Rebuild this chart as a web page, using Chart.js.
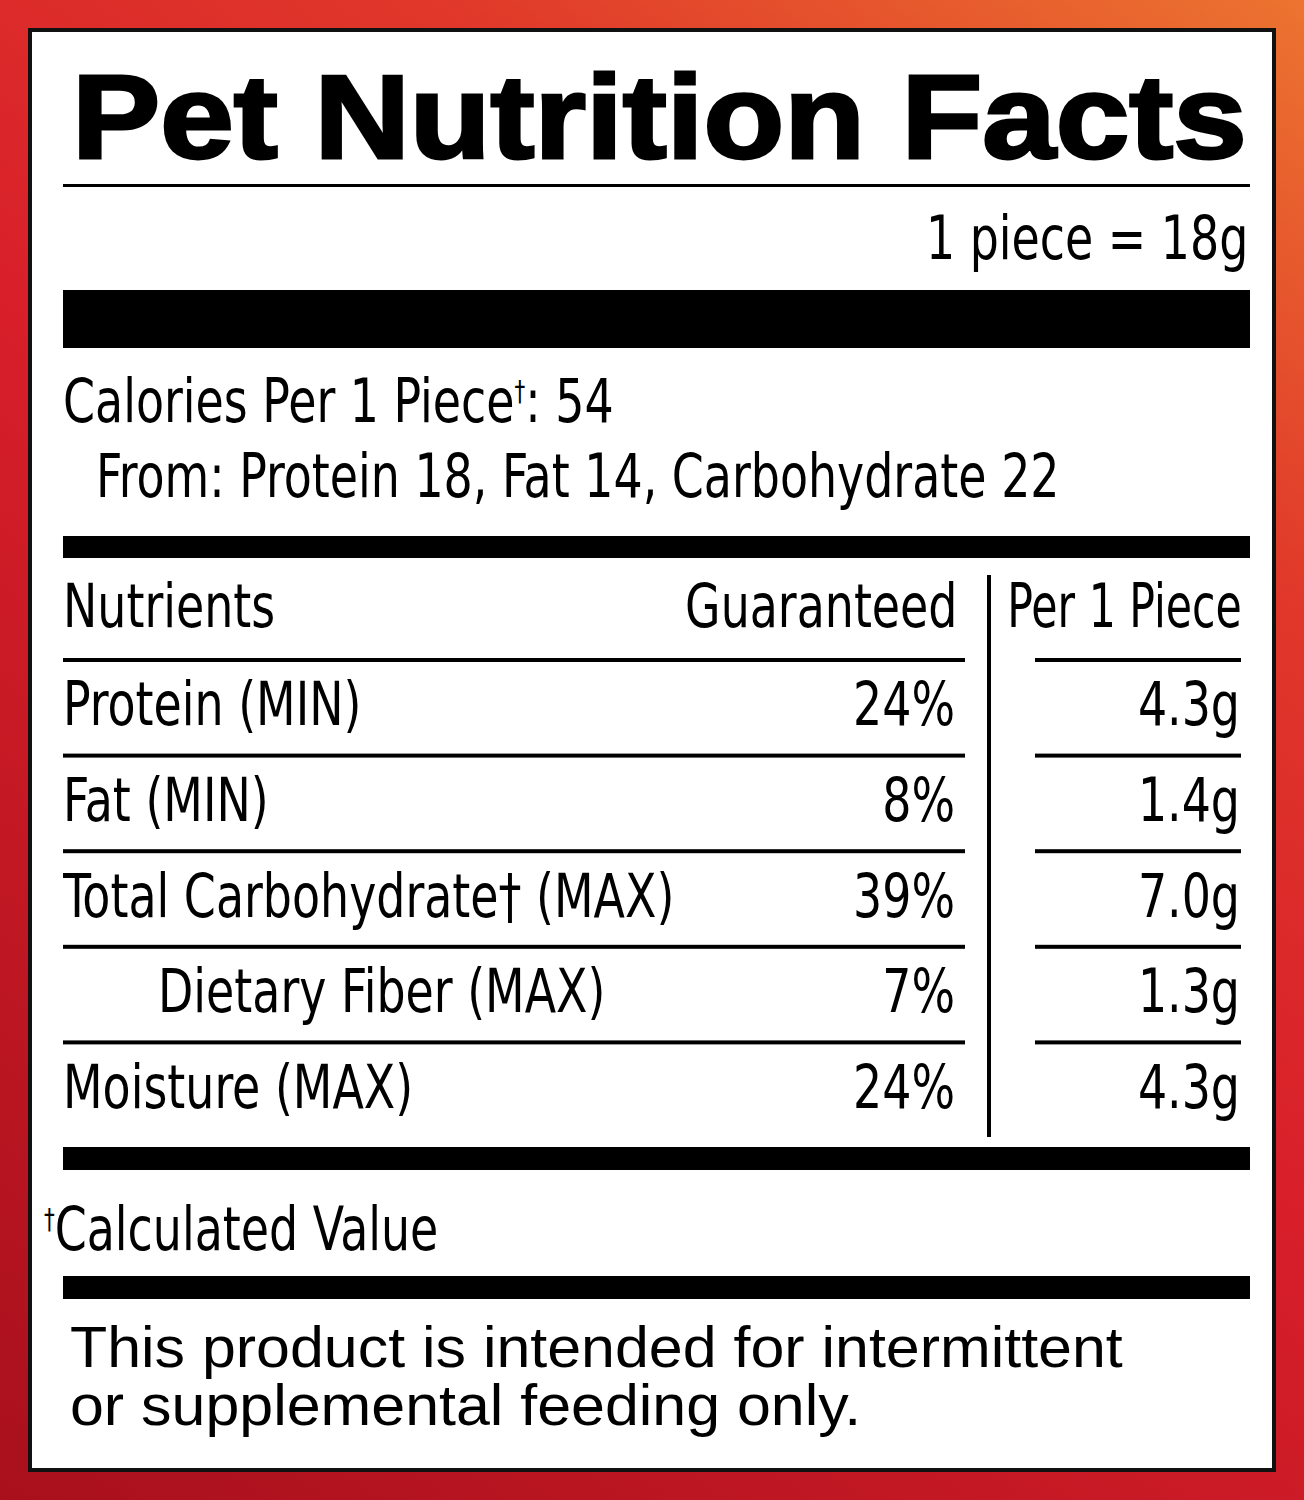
<!DOCTYPE html>
<html lang="en">
<head>
  <meta charset="UTF-8">
  <title>Pet Nutrition Facts</title>
  <script src="https://cdn.jsdelivr.net/npm/chart.js"></script>
  <style>
    body { margin: 0; width: 1304px; height: 1500px; overflow: hidden;
      background: linear-gradient(35deg, #a8101c 0%, #d81f2a 50%, #e0382a 75%, #ec7430 100%); }
    .card { position: absolute; left: 28px; top: 28px; width: 1240px; height: 1436px;
      background: #fff; border: 4px solid #111; }
    .t { position: absolute; white-space: nowrap; color: #000; line-height: 1;
      font-family: 'DejaVu Sans Condensed', sans-serif; font-size: 60px;
      transform: scaleX(0.85); transform-origin: left center; }
    .r { transform-origin: right center; }
    .bar { position: absolute; background: #000; }
  </style>
</head>
<body>
  <div class="card"></div>
  <div class="t" style="left:72px;top:58px;font-family:'Liberation Sans',Arial,sans-serif;font-weight:900;font-size:118px;-webkit-text-stroke:3px #000;transform:scaleX(1.12)">Pet Nutrition Facts</div>
  <div class="bar" style="left:63px;top:184px;width:1187px;height:3px"></div>
  <div class="t r" style="right:56px;top:208px">1 piece = 18g</div>
  <div class="bar" style="left:63px;top:290px;width:1187px;height:58px"></div>
  <div class="t" style="left:63px;top:371px">Calories Per 1 Piece<sup style="font-size:28px">†</sup>: 54</div>
  <div class="t" style="left:96px;top:446px">From: Protein 18, Fat 14, Carbohydrate 22</div>
  <div class="bar" style="left:63px;top:536px;width:1187px;height:22px"></div>
  <div class="t" style="left:63px;top:576px">Nutrients</div>
  <div class="t r" style="right:347px;top:576px">Guaranteed</div>
  <div class="t r" style="right:62px;top:576px;transform:scaleX(0.79)">Per 1 Piece</div>
  <div class="bar" style="left:987px;top:575px;width:4px;height:562px"></div>
  <div style="position:absolute;left:63px;top:658px;width:1187px;height:478px">
    <canvas id="tbl"></canvas>
  </div>
  <div class="bar" style="left:63px;top:1147px;width:1187px;height:23px"></div>
  <div class="t" style="left:44px;top:1199px"><sup style="font-size:28px">†</sup>Calculated Value</div>
  <div class="bar" style="left:63px;top:1276px;width:1187px;height:23px"></div>
  <div class="t" style="left:70px;top:1318px;font-family:'Liberation Sans',Arial,sans-serif;font-size:58px;line-height:58px;transform:scaleX(1.05)">This product is intended for intermittent<br>or supplemental feeding only.</div>

  <script>
    const nutrients = ['Protein (MIN)', 'Fat (MIN)', 'Total Carbohydrate† (MAX)', 'Dietary Fiber (MAX)', 'Moisture (MAX)'];
    const indents = [0, 0, 0, 1, 0];
    const guaranteed = ['24%', '8%', '39%', '7%', '24%'];
    const perPiece = ['4.3g', '1.4g', '7.0g', '1.3g', '4.3g'];
    const FONT = "60px 'DejaVu Sans Condensed', sans-serif";
    const SQUEEZE = 0.85;

    function squeezedText(ctx, text, x, y, align) {
      ctx.save();
      ctx.translate(x, y);
      ctx.scale(SQUEEZE, 1);
      ctx.textAlign = align;
      ctx.fillText(text, 0, 0);
      ctx.restore();
    }

    const tablePlugin = {
      id: 'tablePlugin',
      afterDraw(chart) {
        const ctx = chart.ctx;
        const y = chart.scales.y;
        const w = chart.width;
        const rowH = y.getPixelForValue(1) - y.getPixelForValue(0);
        ctx.save();
        ctx.fillStyle = '#000';
        ctx.font = FONT;
        ctx.textBaseline = 'middle';
        nutrients.forEach((n, i) => {
          const cy = y.getPixelForValue(i);
          const top = cy - rowH / 2;
          ctx.fillRect(0, top, 902, 4);
          ctx.fillRect(972, top, 206, 4);
          squeezedText(ctx, n, indents[i] ? 95 : 0, cy + 4, 'left');
          squeezedText(ctx, guaranteed[i], 892, cy + 4, 'right');
          squeezedText(ctx, perPiece[i], w - 10, cy + 4, 'right');
        });
        ctx.restore();
      }
    };

    new Chart(document.getElementById('tbl'), {
      type: 'bar',
      data: { labels: nutrients, datasets: [{ data: nutrients.map(() => 0), backgroundColor: 'transparent' }] },
      options: {
        indexAxis: 'y', responsive: true, maintainAspectRatio: false, animation: false,
        layout: { padding: 0 },
        plugins: { legend: { display: false }, tooltip: { enabled: false } },
        scales: {
          y: { type: 'category', offset: true, display: false },
          x: { display: false }
        }
      },
      plugins: [tablePlugin]
    });
  </script>
</body>
</html>
